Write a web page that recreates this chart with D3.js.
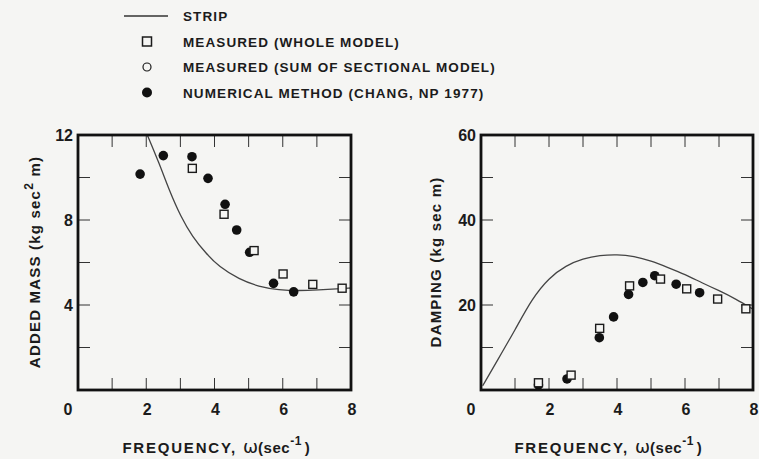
<!doctype html>
<html>
<head>
<meta charset="utf-8">
<title>Added mass and damping</title>
<script src="https://d3js.org/d3.v7.min.js"></script>
<style>
  html, body { margin: 0; padding: 0; background: #f5f5f3; }
  svg { display: block; }
  text { font-family: "Liberation Sans", Arial, sans-serif; font-weight: bold; fill: #1b1b1b; }
</style>
</head>
<body>
<script>
    // ---- data ----
    // added mass (left panel)
    var massNumFreq  = [1.82, 2.50, 3.34, 3.81, 4.31, 4.65, 5.03, 5.73, 6.32];
    var massNumVal   = [10.16, 11.03, 10.98, 9.96, 8.74, 7.53, 6.48, 5.02, 4.62];
    var massMeasFreq = [3.35, 4.28, 5.16, 6.01, 6.88, 7.74];
    var massMeasVal  = [10.43, 8.27, 6.56, 5.46, 4.97, 4.79];
    var massStripFreq = [1.98, 2.38, 2.67, 3.01, 3.35, 3.75, 4.13, 4.72, 5.30, 5.89, 6.47, 7.06, 7.6, 8.0];
    var massStripVal  = [12.2, 10.67, 9.41, 8.16, 7.22, 6.43, 5.80, 5.21, 4.86, 4.71, 4.67, 4.71, 4.76, 4.8];

    // damping (right panel)
    var dampNumFreq  = [1.69, 2.53, 3.48, 3.90, 4.34, 4.76, 5.11, 5.74, 6.43];
    var dampNumVal   = [1.2, 2.6, 12.3, 17.2, 22.5, 25.3, 26.9, 24.9, 22.9];
    var dampMeasFreq = [1.69, 2.65, 3.49, 4.37, 5.28, 6.05, 6.96, 7.79];
    var dampMeasVal  = [1.7, 3.5, 14.5, 24.5, 26.1, 23.8, 21.4, 19.1];
    var dampStripFreq = [0.05, 0.5, 1.0, 1.5, 2.0, 2.5, 3.0, 3.5, 4.0, 4.5, 5.0, 5.5, 6.0, 6.5, 7.0, 7.5, 8.0];
    var dampStripVal  = [1.0, 7.2, 14.1, 21.5, 26.4, 29.3, 30.9, 31.7, 31.9, 31.5, 30.4, 28.8, 27.2, 25.2, 23.4, 21.4, 19.0];

    // sectional model points are listed in the legend but not visible in the plots
    var sectFreq = [];
    var sectVal = [];

    var xTickLabels = [0, 2, 4, 6, 8];
    var massTickLabels = [4, 8, 12];
    var dampTickLabels = [20, 40, 60];

    var legendLabels = [
        'STRIP',
        'MEASURED (WHOLE MODEL)',
        'MEASURED (SUM OF SECTIONAL MODEL)',
        'NUMERICAL METHOD (CHANG, NP 1977)'
    ];
    var legendKinds = ['line', 'square', 'open', 'filled'];

    function zip(xs, ys){
        return xs.map(function(x, i){ return [x, ys[i]]; });
    }

    var svg = d3.select('body').append('svg')
        .attr('width', 759)
        .attr('height', 459);

    // ---- legend ----
    var legend = svg.append('g').attr('class', 'legend');
    legendLabels.forEach(function(label, i){
        var y = 16 + i * 25.5;
        var kind = legendKinds[i];
        if(kind === 'line'){
            legend.append('line')
                .attr('x1', 124).attr('x2', 168)
                .attr('y1', y).attr('y2', y)
                .attr('stroke', '#333').attr('stroke-width', 1.6);
        } else if(kind === 'square'){
            legend.append('rect')
                .attr('x', 142.5).attr('y', y - 4.5)
                .attr('width', 9).attr('height', 9)
                .attr('fill', 'none').attr('stroke', '#1b1b1b').attr('stroke-width', 1.5);
        } else if(kind === 'open'){
            legend.append('circle')
                .attr('cx', 147).attr('cy', y).attr('r', 4)
                .attr('fill', 'none').attr('stroke', '#1b1b1b').attr('stroke-width', 1.2);
        } else {
            legend.append('circle')
                .attr('cx', 147).attr('cy', y).attr('r', 5)
                .attr('fill', '#111');
        }
        legend.append('text')
            .attr('x', 183).attr('y', y + 5)
            .attr('font-size', 13.5)
            .attr('letter-spacing', 1.1)
            .text(label);
    });

    // ---- one panel ----
    function drawPanel(opt){
        var x = d3.scaleLinear().domain([0, 8]).range([opt.x0, opt.x1]);
        var y = d3.scaleLinear().domain([0, opt.ymax]).range([390, 135]);
        var g = svg.append('g');

        var clipId = 'clip' + opt.id;
        g.append('clipPath').attr('id', clipId)
            .append('rect')
            .attr('x', opt.x0).attr('y', 135)
            .attr('width', opt.x1 - opt.x0).attr('height', 255);

        // inward ticks on all four sides
        var tickLen = 12;
        var xt = d3.range(1, 8);
        var yt = d3.range(opt.ystep, opt.ymax, opt.ystep);
        var ticks = g.append('g').attr('stroke', '#333').attr('stroke-width', 1);
        xt.forEach(function(t){
            ticks.append('line').attr('x1', x(t)).attr('x2', x(t)).attr('y1', 390).attr('y2', 390 - tickLen);
            ticks.append('line').attr('x1', x(t)).attr('x2', x(t)).attr('y1', 135).attr('y2', 135 + tickLen);
        });
        yt.forEach(function(t){
            ticks.append('line').attr('x1', opt.x0).attr('x2', opt.x0 + tickLen).attr('y1', y(t)).attr('y2', y(t));
            ticks.append('line').attr('x1', opt.x1).attr('x2', opt.x1 - tickLen).attr('y1', y(t)).attr('y2', y(t));
        });

        // strip theory curve
        var line = d3.line()
            .x(function(d){ return x(d[0]); })
            .y(function(d){ return y(d[1]); })
            .curve(d3.curveBasis);
        g.append('path')
            .datum(zip(opt.stripF, opt.stripV))
            .attr('clip-path', 'url(#' + clipId + ')')
            .attr('d', line)
            .attr('fill', 'none')
            .attr('stroke', '#444')
            .attr('stroke-width', 1.3);

        var pts = g.append('g').attr('clip-path', 'url(#' + clipId + ')');
        pts.selectAll('circle.num')
            .data(zip(opt.numF, opt.numV))
            .enter().append('circle')
            .attr('class', 'num')
            .attr('cx', function(d){ return x(d[0]); })
            .attr('cy', function(d){ return y(d[1]); })
            .attr('r', 4.8)
            .attr('fill', '#111');
        pts.selectAll('circle.sect')
            .data(zip(sectFreq, sectVal))
            .enter().append('circle')
            .attr('class', 'sect')
            .attr('cx', function(d){ return x(d[0]); })
            .attr('cy', function(d){ return y(d[1]); })
            .attr('r', 4)
            .attr('fill', 'none').attr('stroke', '#111');
        pts.selectAll('rect.meas')
            .data(zip(opt.measF, opt.measV))
            .enter().append('rect')
            .attr('class', 'meas')
            .attr('x', function(d){ return x(d[0]) - 4; })
            .attr('y', function(d){ return y(d[1]) - 4; })
            .attr('width', 8).attr('height', 8)
            .attr('fill', '#f5f5f3')
            .attr('stroke', '#1b1b1b')
            .attr('stroke-width', 1.4);

        // frame
        g.append('rect')
            .attr('x', opt.x0).attr('y', 135)
            .attr('width', opt.x1 - opt.x0).attr('height', 255)
            .attr('fill', 'none').attr('stroke', '#111').attr('stroke-width', 2.8);

        // tick labels
        g.selectAll('text.xl')
            .data(xTickLabels)
            .enter().append('text')
            .attr('class', 'xl')
            .attr('x', function(d){ return d === 0 ? x(d) - 10 : x(d) + 1; })
            .attr('y', 415)
            .attr('text-anchor', 'middle')
            .attr('font-size', 16)
            .text(function(d){ return d; });
        g.selectAll('text.yl')
            .data(opt.yLabels)
            .enter().append('text')
            .attr('class', 'yl')
            .attr('x', opt.x0 - 5)
            .attr('y', function(d){ return y(d) + 6; })
            .attr('text-anchor', 'end')
            .attr('font-size', 16)
            .text(function(d){ return d; });

        // x title
        var xt0 = g.append('text')
            .attr('x', opt.xTitleX).attr('y', 453)
            .attr('text-anchor', 'middle')
            .attr('font-size', 15)
            .attr('letter-spacing', 1.8);
        xt0.append('tspan').text('FREQUENCY, ');
        xt0.append('tspan').attr('font-weight', 'normal').attr('font-family', 'DejaVu Sans').attr('font-size', 18).attr('letter-spacing', 0).text('ω');
        xt0.append('tspan').attr('letter-spacing', 0.5).text('(sec');
        xt0.append('tspan').attr('dy', -8).attr('font-size', 12).attr('letter-spacing', 0.5).text('-1');
        xt0.append('tspan').attr('dy', 8).attr('dx', 3).text(')');

        // y title
        var yt0 = g.append('text')
            .attr('transform', 'translate(' + opt.yTitleX + ',262) rotate(-90)')
            .attr('text-anchor', 'middle')
            .attr('font-size', 15)
            .attr('letter-spacing', 1.2);
        opt.yTitle.forEach(function(part){
            var t = yt0.append('tspan').text(part.t);
            if(part.sup){ t.attr('dy', -7).attr('font-size', 12); }
            if(part.down){ t.attr('dy', 7); }
        });
    }

    drawPanel({
        id: 'mass', x0: 78, x1: 351, ymax: 12, ystep: 2,
        yLabels: massTickLabels,
        numF: massNumFreq, numV: massNumVal,
        measF: massMeasFreq, measV: massMeasVal,
        stripF: massStripFreq, stripV: massStripVal,
        xTitleX: 217, yTitleX: 40,
        yTitle: [{t: 'ADDED MASS (kg sec'}, {t: '2', sup: true}, {t: ' m)', down: true}]
    });

    drawPanel({
        id: 'damp', x0: 481, x1: 753, ymax: 60, ystep: 10,
        yLabels: dampTickLabels,
        numF: dampNumFreq, numV: dampNumVal,
        measF: dampMeasFreq, measV: dampMeasVal,
        stripF: dampStripFreq, stripV: dampStripVal,
        xTitleX: 609, yTitleX: 441,
        yTitle: [{t: 'DAMPING (kg sec m)'}]
    });
</script>
</body>
</html>
